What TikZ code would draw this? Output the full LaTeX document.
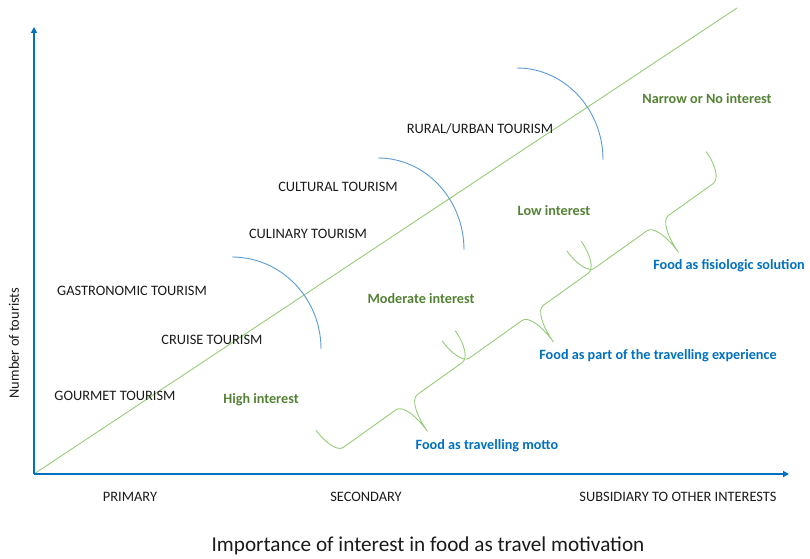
\documentclass[tikz,border=0pt]{standalone}
\usepackage{fontspec}
\setmainfont{Carlito}
\usetikzlibrary{arrows.meta,positioning}
\definecolor{foodInk}{HTML}{1A1A1A}
\definecolor{foodAxis}{HTML}{0070C0}
\definecolor{foodArc}{HTML}{5B9BD5}
\definecolor{foodLine}{HTML}{96CC78}
\definecolor{foodGreen}{HTML}{548235}
\definecolor{foodBlue}{HTML}{0070C0}
\tikzset{
  every picture/.style={font=\fontsize{14.4}{17}\selectfont, text=foodInk},
  tour label/.style={inner sep=1pt},
  interest label/.style={inner sep=1pt, text=foodGreen, font=\fontsize{14.2}{17}\selectfont\bfseries},
  food label/.style={inner sep=1pt, text=foodBlue, font=\fontsize{14.2}{17}\selectfont\bfseries},
  axis line/.style={draw=foodAxis, line width=1.6pt, -{Triangle[length=6pt,width=6pt]}},
  level arc/.style={draw=foodArc, line width=0.9pt},
  diag line/.style={draw=foodLine, line width=0.9pt},
  brace line/.style={draw=foodLine, line width=0.9pt},
  food brace/.pic={
    \draw[brace line] (0,0) .. controls (0,-16.5) and (5.4,-30) .. (12,-30)
      -- (77,-30) .. controls (84.6,-30) and (90,-46.2) .. (90,-66)
      .. controls (90,-46.2) and (95.4,-30) .. (103,-30)
      -- (158,-30) .. controls (165.6,-30) and (171,-16.5) .. (171,0);
  }
}
\begin{document}
\begin{tikzpicture}[x=1pt,y=1pt]
  \useasboundingbox (0,0) rectangle (810,558);
  \coordinate (O) at (34,84); \coordinate (ytop) at (34,531); \coordinate (xend) at (789,84); \coordinate (dend) at (737,550);
  % axes and diagonal
  \draw[diag line] (O) -- (dend);
  \draw[axis line] (O) -- (ytop);
  \draw[axis line] (O) -- (xend);
  % interest levels
  \draw[level arc] (232,301) arc[start angle=90,end angle=0,x radius=89,y radius=92];
  \draw[level arc] (378,400) arc[start angle=90,end angle=0,x radius=86,y radius=92];
  \draw[level arc] (517,490) arc[start angle=90,end angle=0,x radius=86,y radius=92];
  % braces
  \pic[rotate=35.5] at (316,128) {food brace};
  \pic[rotate=35.5] at (442,217.3) {food brace};
  \pic[rotate=35.5] at (567,307) {food brace};
  % tourism types
  \node[tour label] (rural) at (480,429) {RURAL/URBAN TOURISM};
  \node[tour label] (cultural) at (338,371) {CULTURAL TOURISM};
  \node[tour label] (culinary) at (308,324) {CULINARY TOURISM};
  \node[tour label] (gastro) at (132,267) {GASTRONOMIC TOURISM};
  \node[tour label] (cruise) at (212,218) {CRUISE TOURISM};
  \node[tour label] (gourmet) at (115,162) {GOURMET TOURISM};
  % interest
  \node[interest label] (high) at (261,158) {High interest};
  \node[interest label] (moderate) at (421,259) {Moderate interest};
  \node[interest label] (low) at (554,347) {Low interest};
  \node[interest label] (narrow) at (707,459) {Narrow or No interest};
  % food roles
  \node[food label] (motto) at (487,112) {Food as travelling motto};
  \node[food label] (part) at (658,202) {Food as part of the travelling experience};
  \node[food label] (fisio) at (729,292) {Food as fisiologic solution};
  % axis texts
  \node[tour label] (primary) at (130,61) {PRIMARY};
  \node[tour label] (secondary) at (366,61) {SECONDARY};
  \node[tour label] (subsid) at (678,61) {SUBSIDIARY TO OTHER INTERESTS};
  \node[tour label, rotate=90] (ytitle) at (14,215) {Number of tourists};
  \node[tour label, font=\fontsize{21.2}{24}\selectfont] (xtitle) at (428,12) {Importance of interest in food as travel motivation};
\end{tikzpicture}
\end{document}
